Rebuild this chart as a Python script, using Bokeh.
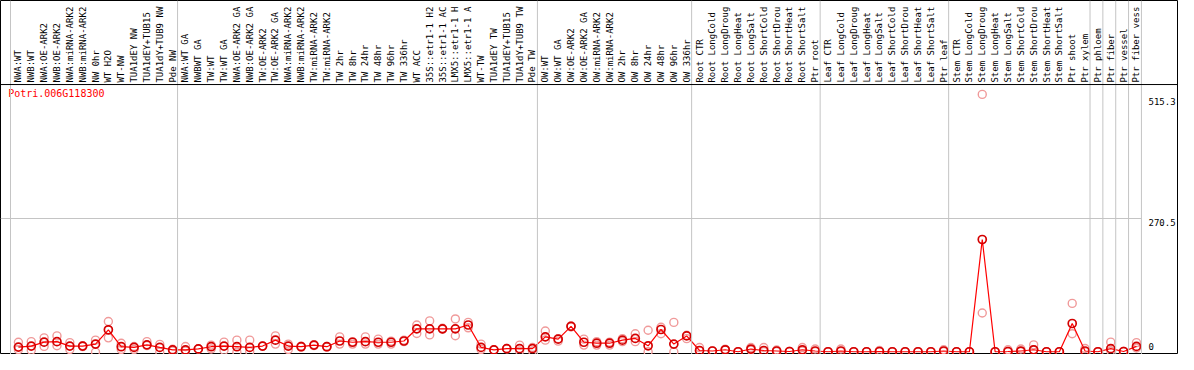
import numpy as np
from bokeh.plotting import figure
from bokeh.models import Range1d, Span
from bokeh.core.properties import value
from bokeh.embed import file_html
from bokeh.resources import INLINE

gene = "Potri.006G118300"

# column labels as they can be read in the header
labels = [
    "NWA:WT", "NWB:WT", "NWA:OE-ARK2", "NWB:OE-ARK2", "NWA:miRNA-ARK2", "NWB:miRNA-ARK2",
    "NW 0hr", "WT H2O", "WT-NW", "TUA1dEY NW", "TUA1dEY+TUB15", "TUA1dY+TUB9 NW", "Pde NW",
    "NWA:WT GA", "NWBWT GA", "TW:WT", "TW:WT GA", "NWA:OE-ARK2 GA", "NWB:OE-ARK2 GA",
    "TW:OE-ARK2", "TW:OE-ARK2 GA", "NWA:miRNA-ARK2", "NWB:miRNA-ARK2", "TW:miRNA-ARK2",
    "TW:miRNA-ARK2", "TW 2hr", "TW 8hr", "TW 24hr", "TW 48hr", "TW 96hr", "TW 336hr",
    "WT ACC", "35S::etr1-1 H2", "35S::etr1-1 AC", "LMX5::etr1-1 H", "LMX5::etr1-1 A",
    "WT-TW", "TUA1dEY TW", "TUA1dEY+TUB15", "TUA1dY+TUB9 TW", "Pde TW",
    "OW:WT", "OW:WT GA", "OW:OE-ARK2", "OW:OE-ARK2 GA", "OW:miRNA-ARK2", "OW:miRNA-ARK2",
    "OW 2hr", "OW 8hr", "OW 24hr", "OW 48hr", "OW 96hr", "OW 336hr",
    "Root CTR", "Root LongCold", "Root LongDroug", "Root LongHeat", "Root LongSalt",
    "Root ShortCold", "Root ShortDrou", "Root ShortHeat", "Root ShortSalt", "Ptr root",
    "Leaf CTR", "Leaf LongCold", "Leaf LongDroug", "Leaf LongHeat", "Leaf LongSalt",
    "Leaf ShortCold", "Leaf ShortDrou", "Leaf ShortHeat", "Leaf ShortSalt", "Ptr leaf",
    "Stem CTR", "Stem LongCold", "Stem LongDroug", "Stem LongHeat", "Stem LongSalt",
    "Stem ShortCold", "Stem ShortDrou", "Stem ShortHeat", "Stem ShortSalt", "Ptr shoot",
    "Ptr xylem", "Ptr phloem", "Ptr fiber", "Ptr vessel", "Ptr fiber vess",
]

means = [
    10, 12, 20, 21, 12, 12, 16, 45, 10.7, 9.3, 14.5, 9.3, 4.3,
    4.3, 6.2, 10.7, 12, 10.7, 9.3, 12, 24, 12, 10.7, 14, 10.7, 22.3, 19.8, 21, 19.8, 19.8,
    22.3, 47, 47, 47, 47, 54.7, 9.3, 4.3, 6.8, 6.8, 6.8,
    30.7, 26, 52, 19.8, 17.8, 17.8, 24, 27.5, 12.6, 45.6, 16, 32.6,
    3, 2, 4.5, 0.5, 6, 3, 2, 1, 4.5, 2,
    0.5, 2, 0.5, 0.5, 1, 0.5, 0.5, 0.5, 0.5, 2,
    0.5, 0.5, 228, 0.5, 1, 2, 4.5, 0.5, 0.5, 57.8, 2,
    0.5, 6.8, 1, 11.3,
]

rep_hi = [
    19.8, 21, 28.7, 32.6, 19, 13, 24, 61.7, 17.8, 11, 21, 15.5, 5.5,
    11, 6, 14, 20, 24, 24, 12, 32.6, 16, 12, 15, 11, 30.7, 21, 30.7, 26, 22,
    24, 54.7, 63, 48, 67, 60, 16, 4.5, 7, 14, 9,
    42.6, 27, 53, 26, 21, 20, 27, 37, 44, 50, 60, 34,
    9, 2, 5.5, 0.5, 9, 9, 4, 1, 9, 6,
    0.5, 6, 0.5, 0.5, 3, 0.5, 0.5, 0.5, 0.5, 4.5,
    0.5, 0.5, 522, 0.5, 4.5, 6, 14.5, 0.5, 0.5, 98.5, 7,
    0.5, 20, 1, 19,
]

rep_lo = [
    4.8, 3.5, 11.3, 12.6, 5, 11, 0, 28.7, 5, 5, 13, 0, 2,
    2, 6, 6, 3.5, 0, 1, 12, 16, 5, 10, 13, 10, 16, 16, 16, 16, 16,
    21, 37.4, 34.6, 46, 33, 49, 5, 4, 6.5, 2, 2,
    24, 22, 51, 14, 14, 14, 21, 21, 0.5, 37, 0.5, 27,
    2, 2, 4, 0.5, 4, 1, 1, 1, 2, 1,
    0.5, 1, 0.5, 0.5, 0.5, 0.5, 0.5, 0.5, 0.5, 1,
    0.5, 0.5, 79, 0.5, 0.5, 1, 4.5, 0.5, 0.5, 37, 0.5,
    0.5, 2, 1, 8,
]

group_starts = [0, 13, 41, 53, 63, 73, 84, 85, 86, 87, 88]
tick_values = [0, 270.5, 515.3]
tick_labels = ["0", "270.5", "515.3"]

idx = list(range(len(labels)))
FONT = value("DejaVu Sans Mono")

y_lo, y_hi = -5.07, 712.3
header_y = 542.0
p = figure(width=1178, height=354,
           x_range=Range1d(-1.394, 90.27), y_range=Range1d(y_lo, y_hi),
           output_backend="svg", toolbar_location=None,
           x_axis_location=None, y_axis_location=None,
           min_border=0, min_border_left=0, min_border_right=0,
           min_border_top=0, min_border_bottom=0)
p.grid.visible = False
p.outline_line_color = "black"
p.outline_line_width = 1
p.background_fill_color = "white"

grid_col = "#c4c4c4"
edge_off = 0.615
for g in group_starts:
    p.add_layout(Span(location=g - edge_off, dimension="height",
                      line_color=grid_col, line_width=1))
# horizontal reference line at the middle tick
p.segment(x0=[-1.394], x1=[group_starts[-1] - edge_off], y0=[tick_values[1]], y1=[tick_values[1]],
          line_color=grid_col, line_width=1)
# header separator
p.add_layout(Span(location=header_y, dimension="width", line_color="black", line_width=1))

# header labels (vertical)
p.text(x=idx, y=[header_y + 4.0] * len(idx), text=labels, angle=np.pi / 2,
       text_align="left", text_baseline="middle", text_font=FONT,
       text_font_size="9px", text_color="black")

# gene id
p.text(x=[-0.8], y=[523.8], text=[gene], text_align="left", text_baseline="middle",
       text_font=FONT, text_font_size="10px", text_color="red")

# tick labels on the right
tick_x = group_starts[-1] - edge_off + 0.55
p.text(x=[tick_x, tick_x], y=tick_values[1:], text=tick_labels[1:], text_align="left",
       text_baseline="middle", text_font=FONT, text_font_size="9px",
       text_color="black", y_offset=4)
p.text(x=[tick_x], y=tick_values[:1], text=tick_labels[:1], text_align="left",
       text_baseline="middle", text_font=FONT, text_font_size="9px",
       text_color="black", y_offset=-5)

# replicates
p.scatter(idx, rep_hi, marker="circle", size=8, fill_color=None,
          line_color="#f09a9a", line_width=1.4)
p.scatter(idx, rep_lo, marker="circle", size=8, fill_color=None,
          line_color="#f09a9a", line_width=1.4)

# mean profile
p.line(idx, means, line_color="red", line_width=1.2)
p.scatter(idx, means, marker="circle", size=8, fill_color=None,
          line_color="#d40000", line_width=1.7)

open("out.html", "w").write(file_html(p, INLINE))
